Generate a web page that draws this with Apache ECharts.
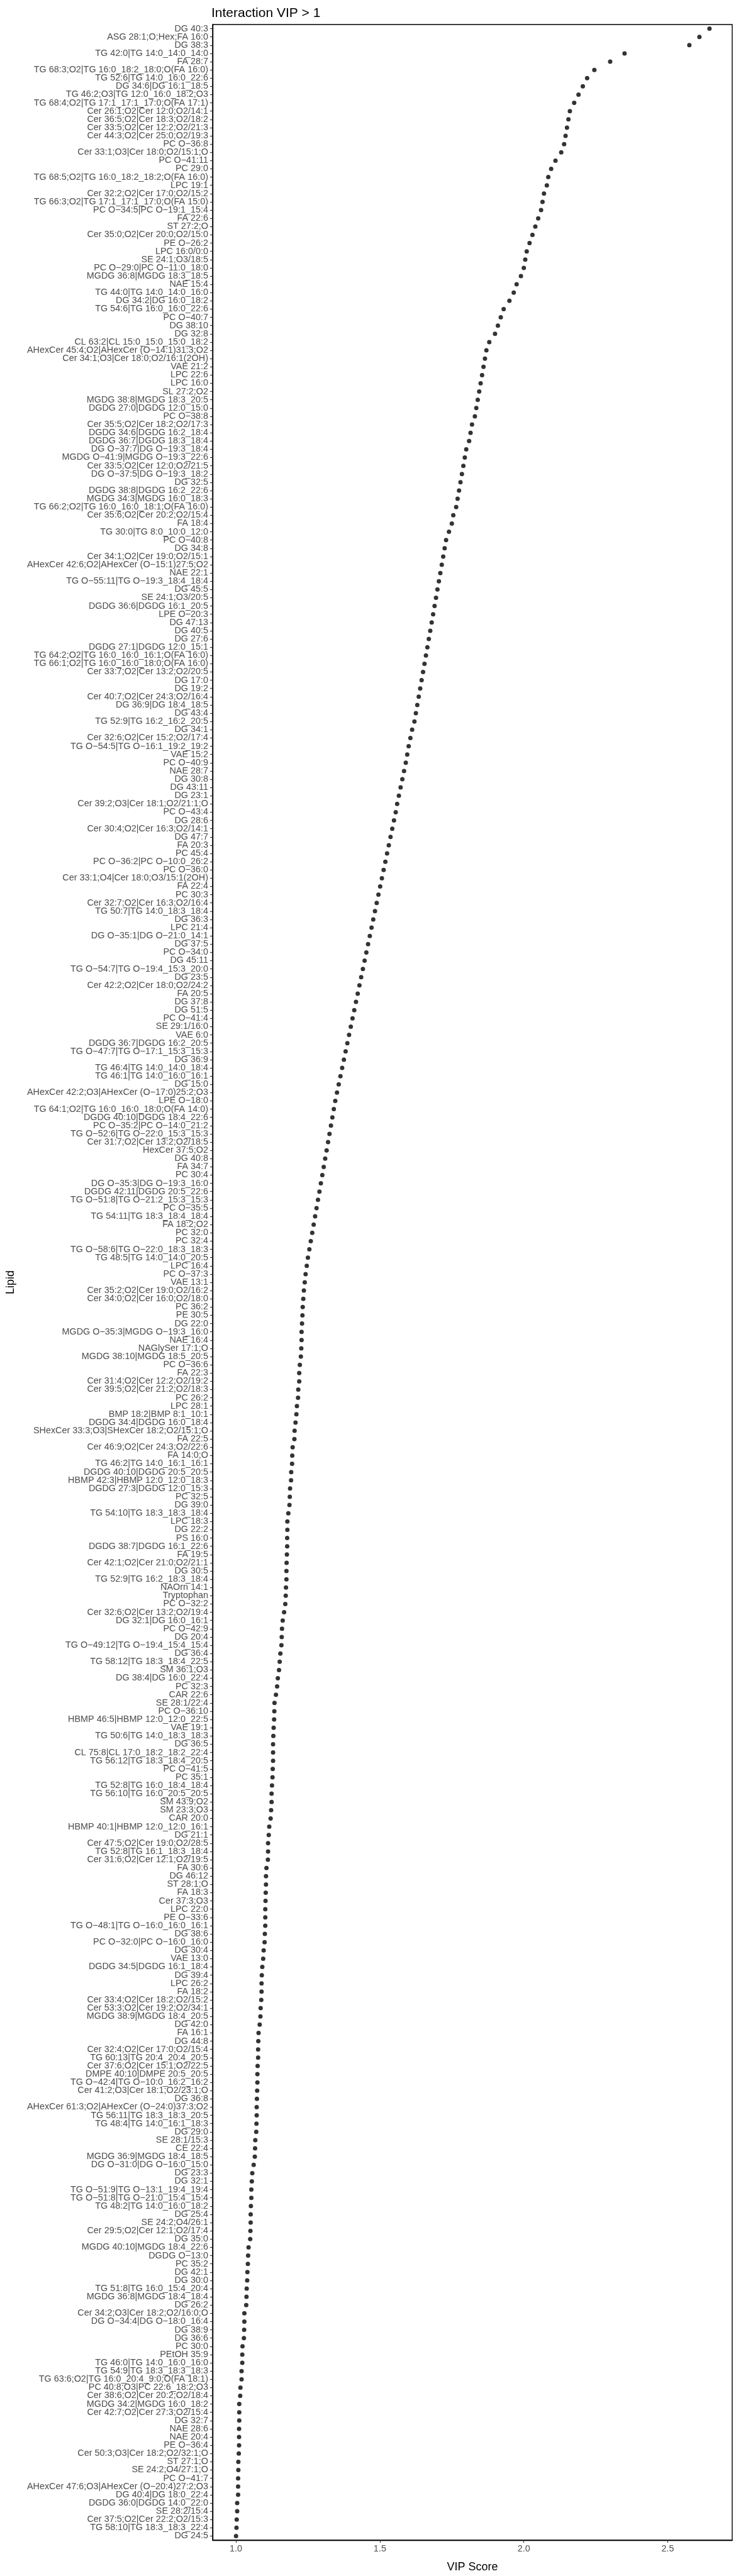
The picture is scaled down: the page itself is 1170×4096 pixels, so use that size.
<!DOCTYPE html>
<html><head><meta charset="utf-8">
<script src="https://cdn.jsdelivr.net/npm/echarts@6/dist/echarts.min.js"></script>
<style>html,body{margin:0;padding:0;background:#fff}#c{width:1170px;height:4096px}</style>
</head><body><div id="c"></div>
<script>
const titleText = "Interaction VIP > 1";
const xName = "VIP Score";
const yName = "Lipid";
const xTicks = [1.0, 1.5, 2.0, 2.5];
const lipids = [
"DG 40:3","ASG 28:1;O;Hex;FA 16:0","DG 38:3","TG 42:0|TG 14:0_14:0_14:0","FA 28:7",
"TG 68:3;O2|TG 16:0_18:2_18:0;O(FA 16:0)","TG 52:6|TG 14:0_16:0_22:6","DG 34:6|DG 16:1_18:5","TG 46:2;O3|TG 12:0_16:0_18:2;O3","TG 68:4;O2|TG 17:1_17:1_17:0;O(FA 17:1)",
"Cer 26:1;O2|Cer 12:0;O2/14:1","Cer 36:5;O2|Cer 18:3;O2/18:2","Cer 33:5;O2|Cer 12:2;O2/21:3","Cer 44:3;O2|Cer 25:0;O2/19:3","PC O−36:8",
"Cer 33:1;O3|Cer 18:0;O2/15:1;O","PC O−41:11","PC 29:0","TG 68:5;O2|TG 16:0_18:2_18:2;O(FA 16:0)","LPC 19:1",
"Cer 32:2;O2|Cer 17:0;O2/15:2","TG 66:3;O2|TG 17:1_17:1_17:0;O(FA 15:0)","PC O−34:5|PC O−19:1_15:4","FA 22:6","ST 27:2;O",
"Cer 35:0;O2|Cer 20:0;O2/15:0","PE O−26:2","LPC 16:0/0:0","SE 24:1;O3/18:5","PC O−29:0|PC O−11:0_18:0",
"MGDG 36:8|MGDG 18:3_18:5","NAE 15:4","TG 44:0|TG 14:0_14:0_16:0","DG 34:2|DG 16:0_18:2","TG 54:6|TG 16:0_16:0_22:6",
"PC O−40:7","DG 38:10","DG 32:8","CL 63:2|CL 15:0_15:0_15:0_18:2","AHexCer 45:4;O2|AHexCer (O−14:1)31:3;O2",
"Cer 34:1;O3|Cer 18:0;O2/16:1(2OH)","VAE 21:2","LPC 22:6","LPC 16:0","SL 27:2;O2",
"MGDG 38:8|MGDG 18:3_20:5","DGDG 27:0|DGDG 12:0_15:0","PC O−38:8","Cer 35:5;O2|Cer 18:2;O2/17:3","DGDG 34:6|DGDG 16:2_18:4",
"DGDG 36:7|DGDG 18:3_18:4","DG O−37:7|DG O−19:3_18:4","MGDG O−41:9|MGDG O−19:3_22:6","Cer 33:5;O2|Cer 12:0;O2/21:5","DG O−37:5|DG O−19:3_18:2",
"DG 32:5","DGDG 38:8|DGDG 16:2_22:6","MGDG 34:3|MGDG 16:0_18:3","TG 66:2;O2|TG 16:0_16:0_18:1;O(FA 16:0)","Cer 35:6;O2|Cer 20:2;O2/15:4",
"FA 18:4","TG 30:0|TG 8:0_10:0_12:0","PC O−40:8","DG 34:8","Cer 34:1;O2|Cer 19:0;O2/15:1",
"AHexCer 42:6;O2|AHexCer (O−15:1)27:5;O2","NAE 22:1","TG O−55:11|TG O−19:3_18:4_18:4","DG 45:5","SE 24:1;O3/20:5",
"DGDG 36:6|DGDG 16:1_20:5","LPE O−20:3","DG 47:13","DG 40:5","DG 27:6",
"DGDG 27:1|DGDG 12:0_15:1","TG 64:2;O2|TG 16:0_16:0_16:1;O(FA 16:0)","TG 66:1;O2|TG 16:0_16:0_18:0;O(FA 16:0)","Cer 33:7;O2|Cer 13:2;O2/20:5","DG 17:0",
"DG 19:2","Cer 40:7;O2|Cer 24:3;O2/16:4","DG 36:9|DG 18:4_18:5","DG 43:4","TG 52:9|TG 16:2_16:2_20:5",
"DG 34:1","Cer 32:6;O2|Cer 15:2;O2/17:4","TG O−54:5|TG O−16:1_19:2_19:2","VAE 15:2","PC O−40:9",
"NAE 28:7","DG 30:8","DG 43:11","DG 23:1","Cer 39:2;O3|Cer 18:1;O2/21:1;O",
"PC O−43:4","DG 28:6","Cer 30:4;O2|Cer 16:3;O2/14:1","DG 47:7","FA 20:3",
"PC 45:4","PC O−36:2|PC O−10:0_26:2","PC O−36:0","Cer 33:1;O4|Cer 18:0;O3/15:1(2OH)","FA 22:4",
"PC 30:3","Cer 32:7;O2|Cer 16:3;O2/16:4","TG 50:7|TG 14:0_18:3_18:4","DG 36:3","LPC 21:4",
"DG O−35:1|DG O−21:0_14:1","DG 37:5","PC O−34:0","DG 45:11","TG O−54:7|TG O−19:4_15:3_20:0",
"DG 23:5","Cer 42:2;O2|Cer 18:0;O2/24:2","FA 20:5","DG 37:8","DG 51:5",
"PC O−41:4","SE 29:1/16:0","VAE 6:0","DGDG 36:7|DGDG 16:2_20:5","TG O−47:7|TG O−17:1_15:3_15:3",
"DG 36:9","TG 46:4|TG 14:0_14:0_18:4","TG 46:1|TG 14:0_16:0_16:1","DG 15:0","AHexCer 42:2;O3|AHexCer (O−17:0)25:2;O3",
"LPE O−18:0","TG 64:1;O2|TG 16:0_16:0_18:0;O(FA 14:0)","DGDG 40:10|DGDG 18:4_22:6","PC O−35:2|PC O−14:0_21:2","TG O−52:6|TG O−22:0_15:3_15:3",
"Cer 31:7;O2|Cer 13:2;O2/18:5","HexCer 37:5;O2","DG 40:8","FA 34:7","PC 30:4",
"DG O−35:3|DG O−19:3_16:0","DGDG 42:11|DGDG 20:5_22:6","TG O−51:8|TG O−21:2_15:3_15:3","PC O−35:5","TG 54:11|TG 18:3_18:4_18:4",
"FA 18:2;O2","PC 32:0","PC 32:4","TG O−58:6|TG O−22:0_18:3_18:3","TG 48:5|TG 14:0_14:0_20:5",
"LPC 16:4","PC O−37:3","VAE 13:1","Cer 35:2;O2|Cer 19:0;O2/16:2","Cer 34:0;O2|Cer 16:0;O2/18:0",
"PC 36:2","PE 30:5","DG 22:0","MGDG O−35:3|MGDG O−19:3_16:0","NAE 16:4",
"NAGlySer 17:1;O","MGDG 38:10|MGDG 18:5_20:5","PC O−36:6","FA 22:3","Cer 31:4;O2|Cer 12:2;O2/19:2",
"Cer 39:5;O2|Cer 21:2;O2/18:3","PC 26:2","LPC 28:1","BMP 18:2|BMP 8:1_10:1","DGDG 34:4|DGDG 16:0_18:4",
"SHexCer 33:3;O3|SHexCer 18:2;O2/15:1;O","FA 22:5","Cer 46:9;O2|Cer 24:3;O2/22:6","FA 14:0;O","TG 46:2|TG 14:0_16:1_16:1",
"DGDG 40:10|DGDG 20:5_20:5","HBMP 42:3|HBMP 12:0_12:0_18:3","DGDG 27:3|DGDG 12:0_15:3","PC 32:5","DG 39:0",
"TG 54:10|TG 18:3_18:3_18:4","LPC 18:3","DG 22:2","PS 16:0","DGDG 38:7|DGDG 16:1_22:6",
"FA 19:5","Cer 42:1;O2|Cer 21:0;O2/21:1","DG 30:5","TG 52:9|TG 16:2_18:3_18:4","NAOrn 14:1",
"Tryptophan","PC O−32:2","Cer 32:6;O2|Cer 13:2;O2/19:4","DG 32:1|DG 16:0_16:1","PC O−42:9",
"DG 20:4","TG O−49:12|TG O−19:4_15:4_15:4","DG 36:4","TG 58:12|TG 18:3_18:4_22:5","SM 36:1;O3",
"DG 38:4|DG 16:0_22:4","PC 32:3","CAR 22:6","SE 28:1/22:4","PC O−36:10",
"HBMP 46:5|HBMP 12:0_12:0_22:5","VAE 19:1","TG 50:6|TG 14:0_18:3_18:3","DG 36:5","CL 75:8|CL 17:0_18:2_18:2_22:4",
"TG 56:12|TG 18:3_18:4_20:5","PC O−41:5","PC 35:1","TG 52:8|TG 16:0_18:4_18:4","TG 56:10|TG 16:0_20:5_20:5",
"SM 43:9;O2","SM 23:3;O3","CAR 20:0","HBMP 40:1|HBMP 12:0_12:0_16:1","DG 21:1",
"Cer 47:5;O2|Cer 19:0;O2/28:5","TG 52:8|TG 16:1_18:3_18:4","Cer 31:6;O2|Cer 12:1;O2/19:5","FA 30:6","DG 46:12",
"ST 28:1;O","FA 18:3","Cer 37:3;O3","LPC 22:0","PE O−33:6",
"TG O−48:1|TG O−16:0_16:0_16:1","DG 38:6","PC O−32:0|PC O−16:0_16:0","DG 30:4","VAE 13:0",
"DGDG 34:5|DGDG 16:1_18:4","DG 39:4","LPC 26:2","FA 18:2","Cer 33:4;O2|Cer 18:2;O2/15:2",
"Cer 53:3;O2|Cer 19:2;O2/34:1","MGDG 38:9|MGDG 18:4_20:5","DG 42:0","FA 16:1","DG 44:8",
"Cer 32:4;O2|Cer 17:0;O2/15:4","TG 60:13|TG 20:4_20:4_20:5","Cer 37:6;O2|Cer 15:1;O2/22:5","DMPE 40:10|DMPE 20:5_20:5","TG O−42:4|TG O−10:0_16:2_16:2",
"Cer 41:2;O3|Cer 18:1;O2/23:1;O","DG 36:8","AHexCer 61:3;O2|AHexCer (O−24:0)37:3;O2","TG 56:11|TG 18:3_18:3_20:5","TG 48:4|TG 14:0_16:1_18:3",
"DG 29:0","SE 28:1/15:3","CE 22:4","MGDG 36:9|MGDG 18:4_18:5","DG O−31:0|DG O−16:0_15:0",
"DG 23:3","DG 32:1","TG O−51:9|TG O−13:1_19:4_19:4","TG O−51:8|TG O−21:0_15:4_15:4","TG 48:2|TG 14:0_16:0_18:2",
"DG 25:4","SE 24:2;O4/26:1","Cer 29:5;O2|Cer 12:1;O2/17:4","DG 35:0","MGDG 40:10|MGDG 18:4_22:6",
"DGDG O−13:0","PC 35:2","DG 42:1","DG 30:0","TG 51:8|TG 16:0_15:4_20:4",
"MGDG 36:8|MGDG 18:4_18:4","DG 26:2","Cer 34:2;O3|Cer 18:2;O2/16:0;O","DG O−34:4|DG O−18:0_16:4","DG 38:9",
"DG 36:6","PC 30:0","PEtOH 35:9","TG 46:0|TG 14:0_16:0_16:0","TG 54:9|TG 18:3_18:3_18:3",
"TG 63:6;O2|TG 16:0_20:4_9:0;O(FA 18:1)","PC 40:8;O3|PC 22:6_18:2;O3","Cer 38:6;O2|Cer 20:2;O2/18:4","MGDG 34:2|MGDG 16:0_18:2","Cer 42:7;O2|Cer 27:3;O2/15:4",
"DG 32:7","NAE 28:6","NAE 20:4","PE O−36:4","Cer 50:3;O3|Cer 18:2;O2/32:1;O",
"ST 27:1;O","SE 24:2;O4/27:1;O","PC O−41:7","AHexCer 47:6;O3|AHexCer (O−20:4)27:2;O3","DG 40:4|DG 18:0_22:4",
"DGDG 36:0|DGDG 14:0_22:0","SE 28:2/15:4","Cer 37:5;O2|Cer 22:2;O2/15:3","TG 58:10|TG 18:3_18:3_22:4","DG 24:5"
];
const vipScores = [
2.645,2.610,2.575,2.350,2.300,2.245,2.220,2.205,2.190,2.175,
2.160,2.155,2.150,2.145,2.140,2.130,2.110,2.095,2.085,2.080,
2.070,2.065,2.060,2.050,2.040,2.030,2.020,2.010,2.005,2.000,
1.990,1.975,1.965,1.950,1.930,1.920,1.910,1.900,1.880,1.870,
1.865,1.860,1.855,1.850,1.845,1.840,1.835,1.830,1.820,1.815,
1.810,1.800,1.795,1.790,1.785,1.780,1.775,1.770,1.765,1.755,
1.750,1.740,1.730,1.725,1.720,1.715,1.710,1.705,1.700,1.695,
1.690,1.685,1.680,1.675,1.670,1.665,1.660,1.655,1.650,1.645,
1.640,1.635,1.630,1.625,1.620,1.612,1.606,1.600,1.595,1.590,
1.584,1.578,1.572,1.566,1.560,1.555,1.549,1.543,1.537,1.531,
1.525,1.519,1.513,1.507,1.501,1.495,1.489,1.483,1.477,1.471,
1.465,1.459,1.453,1.447,1.441,1.435,1.429,1.423,1.417,1.411,
1.405,1.399,1.393,1.387,1.381,1.375,1.369,1.363,1.357,1.351,
1.345,1.340,1.335,1.330,1.325,1.320,1.315,1.310,1.305,1.300,
1.295,1.290,1.285,1.280,1.275,1.270,1.265,1.260,1.255,1.250,
1.246,1.242,1.239,1.236,1.234,1.232,1.231,1.2295,1.228,1.228,
1.227,1.2255,1.222,1.2198,1.2198,1.2165,1.2157,1.2118,1.210,1.207,
1.2037,1.203,1.197,1.1956,1.195,1.192,1.1915,1.188,1.187,1.1859,
1.182,1.1786,1.1786,1.178,1.178,1.177,1.176,1.1754,1.1754,1.1738,
1.173,1.1714,1.1673,1.1625,1.160,1.159,1.158,1.1544,1.152,1.1496,
1.1455,1.143,1.139,1.134,1.1334,1.1326,1.131,1.130,1.129,1.129,
1.129,1.1278,1.127,1.1253,1.1238,1.1238,1.1222,1.1205,1.1157,1.114,
1.1116,1.1116,1.111,1.106,1.1044,1.1044,1.1035,1.1028,1.1019,1.1019,
1.1019,1.1004,1.0995,1.0963,1.0947,1.0915,1.0899,1.089,1.089,1.088,
1.0858,1.085,1.0825,1.0786,1.0777,1.077,1.077,1.0753,1.0745,1.0745,
1.0737,1.0729,1.0721,1.0721,1.0713,1.0705,1.0672,1.0665,1.0656,1.0616,
1.0567,1.0552,1.0535,1.0535,1.0519,1.0511,1.0511,1.0503,1.0495,1.0438,
1.0423,1.0414,1.0398,1.039,1.0374,1.0366,1.0357,1.0293,1.0293,1.0285,
1.0277,1.0228,1.022,1.022,1.0196,1.0196,1.0156,1.0148,1.0115,1.0115,
1.0115,1.0108,1.0108,1.0108,1.0099,1.0083,1.0083,1.0075,1.0075,1.0075,
1.0043,1.0043,1.0027,1.0019,1.0003
];

const chart = echarts.init(document.getElementById('c'), null, {renderer: 'canvas'});
const FONT = '"Liberation Sans", Arial, Helvetica, sans-serif';
chart.setOption({
  animation: false,
  backgroundColor: '#ffffff',
  title: {
    text: titleText, left: 331, top: 6,
    textStyle: {fontFamily: FONT, fontSize: 21, fontWeight: 'normal', color: '#000'}
  },
  grid: {left: 330, right: 6, top: 39, bottom: 54, show: true, borderColor: '#000', borderWidth: 1.4, backgroundColor: 'transparent'},
  xAxis: {
    type: 'value', min: 0.919, max: 2.724,
    name: xName, nameLocation: 'middle', nameGap: 34,
    nameTextStyle: {fontFamily: FONT, fontSize: 18, color: '#000'},
    axisLine: {show: true, lineStyle: {color: '#000', width: 1.4}},
    axisTick: {show: true, length: 4, lineStyle: {color: '#333', width: 1.2}, customValues: xTicks},
    axisLabel: {fontFamily: FONT, fontSize: 14.4, color: '#4d4d4d', margin: 7, customValues: xTicks,
      formatter: v => Number(v).toFixed(1)},
    splitLine: {show: false}
  },
  yAxis: {
    type: 'category', data: lipids, inverse: true,
    name: yName, nameLocation: 'middle', nameGap: 312, nameRotate: 90,
    nameTextStyle: {fontFamily: FONT, fontSize: 18, color: '#000'},
    axisLine: {show: true, lineStyle: {color: '#000', width: 1.4}},
    axisTick: {show: true, alignWithLabel: true, length: 4, lineStyle: {color: '#333', width: 1.2}},
    axisLabel: {interval: 0, fontFamily: FONT, fontSize: 14.4, color: '#4d4d4d', margin: 7},
    splitLine: {show: false}
  },
  series: [{
    type: 'scatter', symbol: 'circle', symbolSize: 7,
    itemStyle: {color: '#000'},
    data: vipScores.map((v, i) => [v, i])
  }]
});
</script></body></html>
